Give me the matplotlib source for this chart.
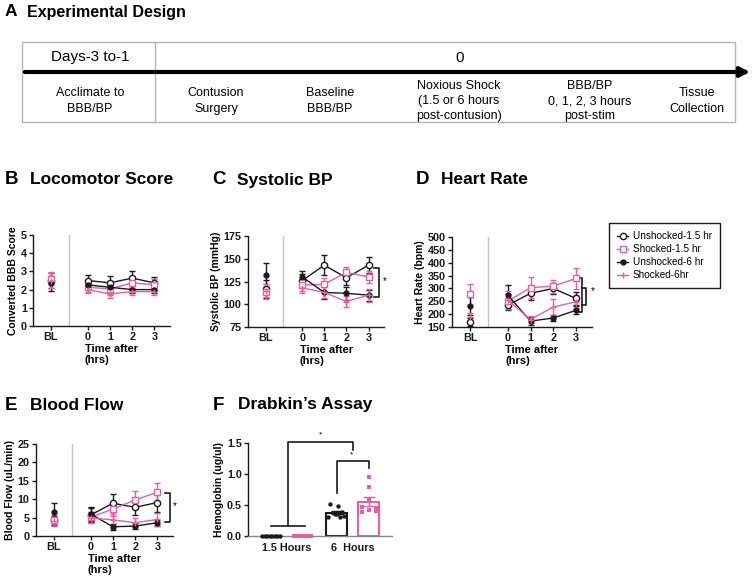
import numpy as np
import matplotlib.pyplot as plt
from matplotlib.patches import Rectangle
from matplotlib.lines import Line2D
from matplotlib.transforms import blended_transform_factory

plt.rcParams['font.family'] = ['Liberation Sans', 'DejaVu Sans']

W, H = 754, 576
BLACK = '#1a1a1a'
PINK = '#e8609b'

# time axis: baseline + hours after stimulation
time_labels = ['BL', '0', '1', '2', '3']
time_x = [-1.65, 0, 1, 2, 3]

group_names = ['Unshocked-1.5 hr', 'Shocked-1.5 hr', 'Unshocked-6 hr', 'Shocked-6hr']

# Locomotor score (mean, sem) at BL, 0, 1, 2, 3
bbb_u15 = [2.5, 2.5, 2.37, 2.63, 2.37]
bbb_u15_err = [0.4, 0.3, 0.35, 0.4, 0.3]
bbb_s15 = [2.6, 2.13, 2.04, 2.37, 2.26]
bbb_s15_err = [0.35, 0.25, 0.35, 0.3, 0.3]
bbb_u6 = [2.35, 2.26, 2.13, 2.0, 2.0]
bbb_u6_err = [0.4, 0.2, 0.2, 0.2, 0.2]
bbb_s6 = [2.5, 2.0, 1.76, 1.89, 1.89]
bbb_s6_err = [0.4, 0.2, 0.2, 0.2, 0.2]

# Systolic BP (mmHg)
sbp_u15 = [117, 126, 143, 129, 143]
sbp_u15_err = [10, 7, 11, 8, 9]
sbp_s15 = [114, 121, 122, 135, 130]
sbp_s15_err = [8, 6, 7, 6, 7]
sbp_u6 = [132, 130, 113, 112, 110]
sbp_u6_err = [13, 6, 7, 7, 6]
sbp_s6 = [115, 118, 113, 103, 110]
sbp_s6_err = [7, 6, 6, 6, 7]

# Heart rate (bpm)
hr_u15 = [170, 235, 281, 300, 261]
hr_u15_err = [15, 20, 25, 20, 25]
hr_s15 = [277, 250, 303, 309, 339]
hr_s15_err = [40, 30, 40, 25, 40]
hr_u6 = [232, 274, 173, 185, 215]
hr_u6_err = [35, 40, 15, 12, 15]
hr_s6 = [189, 255, 179, 228, 248]
hr_s6_err = [15, 35, 12, 30, 25]

# Blood flow (uL/min)
bf_u15 = [4.3, 5.7, 8.9, 7.8, 9.1]
bf_u15_err = [1.2, 2.0, 2.5, 2.0, 2.5]
bf_s15 = [4.4, 5.1, 7.3, 9.8, 11.9]
bf_s15_err = [1.2, 1.5, 2.0, 2.5, 2.5]
bf_u6 = [6.6, 6.0, 2.5, 2.7, 3.6]
bf_u6_err = [2.4, 2.0, 0.8, 0.8, 0.8]
bf_s6 = [4.0, 4.9, 4.4, 3.6, 4.5]
bf_s6_err = [1.2, 1.5, 1.5, 1.2, 1.8]

# Drabkin's assay, hemoglobin (ug/ul) per animal
hb_labels = ['1.5 Hours', '6  Hours']
hb_u15 = [0, 0, 0, 0, 0, 0, 0, 0]
hb_s15 = [0, 0, 0, 0, 0, 0, 0, 0]
hb_u6 = [0.52, 0.48, 0.38, 0.36, 0.33, 0.35, 0.30, 0.31]
hb_s6 = [0.95, 0.79, 0.58, 0.47, 0.45, 0.42, 0.39, 0.40]

styles = [
    dict(color=BLACK, marker='o', mfc='white', mec=BLACK, ms=4.5),
    dict(color=PINK, marker='s', mfc='white', mec=PINK, ms=4.5),
    dict(color=BLACK, marker='o', mfc=BLACK, mec=BLACK, ms=3.5),
    dict(color=PINK, marker='+', mfc=PINK, mec=PINK, ms=5),
]

fig = plt.figure(figsize=(W / 100, H / 100), dpi=100)


def px_axes(x0, y0, x1, y1):
    return fig.add_axes([x0 / W, 1 - y1 / H, (x1 - x0) / W, (y1 - y0) / H])


# ---- overlay in pixel coordinates for panel A and titles
ov = fig.add_axes([0, 0, 1, 1])
ov.set_xlim(0, W)
ov.set_ylim(H, 0)
ov.axis('off')

narrow = ['Liberation Sans Narrow', 'Liberation Sans', 'DejaVu Sans']
ov.add_patch(Rectangle((22, 42), 713, 80, fill=False, ec='#b5b5b5', lw=1))
ov.plot([155, 155], [42, 122], color='#b5b5b5', lw=1)
ov.annotate('', xy=(753, 72), xytext=(22, 72),
            arrowprops=dict(arrowstyle='-|>', lw=3, color='black', mutation_scale=14))
ov.text(90, 57, 'Days-3 to-1', ha='center', va='center', fontsize=11, family=narrow)
ov.text(460, 58, '0', ha='center', va='center', fontsize=11, family=narrow)
steps = [(90, 'Acclimate to\nBBB/BP'), (216, 'Contusion\nSurgery'), (330, 'Baseline\nBBB/BP'),
         (459, 'Noxious Shock\n(1.5 or 6 hours\npost-contusion)'),
         (590, 'BBB/BP\n0, 1, 2, 3 hours\npost-stim'), (697, 'Tissue\nCollection')]
for x, s in steps:
    ov.text(x, 101, s, ha='center', va='center', fontsize=9, family=narrow, linespacing=1.35)

titles = [(5, 12, 'A', 'Experimental Design', 11.5),
          (5, 180, 'B', 'Locomotor Score', 12.5),
          (212, 180, 'C', 'Systolic BP', 12.5),
          (416, 180, 'D', 'Heart Rate', 12.5),
          (5, 405, 'E', 'Blood Flow', 12.5),
          (213, 405, 'F', 'Drabkin\u2019s Assay', 12.5)]
for x, y, letter, t, fs in titles:
    ov.text(x, y, letter, ha='left', va='center', fontsize=fs + 1, fontweight='bold')
    ov.text(x + (22 if letter == 'A' else 25), y, t, ha='left', va='center',
            fontsize=fs, fontweight='bold')


def style_axes(ax):
    for s in ['top', 'right']:
        ax.spines[s].set_visible(False)
    for s in ['left', 'bottom']:
        ax.spines[s].set_linewidth(1)
        ax.spines[s].set_color(BLACK)
    ax.tick_params(direction='out', length=3, width=1, labelsize=7.8, pad=1.5, colors=BLACK)
    for lab in ax.get_xticklabels() + ax.get_yticklabels():
        lab.set_fontweight('bold')


def line_panel(ax, data, ylim, yticks, ylabel):
    handles = []
    for (mean, err), st in zip(data, styles):
        ax.errorbar(time_x[1:], mean[1:], yerr=err[1:], lw=1, elinewidth=1, capsize=2.5,
                    capthick=1, mew=1, clip_on=False, **st)
        ax.errorbar(time_x[:1], mean[:1], yerr=err[:1], ls='none', elinewidth=1,
                    capsize=2.5, capthick=1, mew=1, clip_on=False, **st)
        handles.append(Line2D([], [], lw=1, mew=1, **st))
    ax.axvline(-0.85, color='#c4c4c4', lw=1)
    ax.set_xlim(-2.45, 3.7)
    ax.set_ylim(*ylim)
    ax.set_yticks(yticks)
    ax.set_xticks(time_x)
    ax.set_xticklabels(time_labels)
    ax.set_ylabel(ylabel, fontsize=7.5, fontweight='bold', labelpad=2)
    tr = blended_transform_factory(ax.transData, ax.transAxes)
    ax.text(-0.12, -0.2, 'Time after\n(hrs)', transform=tr, ha='left', va='top',
            fontsize=8, fontweight='bold', linespacing=1.1)
    style_axes(ax)
    return handles


def bracket(ax, x, y0, y1, tick, **kw):
    ax.plot([x - tick, x, x, x - tick], [y0, y0, y1, y1], color=BLACK, lw=1.2,
            clip_on=False, **kw)


# ---- B
axB = px_axes(33, 235, 170, 326)
line_panel(axB, [(bbb_u15, bbb_u15_err), (bbb_s15, bbb_s15_err),
                 (bbb_u6, bbb_u6_err), (bbb_s6, bbb_s6_err)],
           (0, 5), range(0, 6), 'Converted BBB Score')

# ---- C
axC = px_axes(248, 236, 384, 327)
line_panel(axC, [(sbp_u15, sbp_u15_err), (sbp_s15, sbp_s15_err),
                 (sbp_u6, sbp_u6_err), (sbp_s6, sbp_s6_err)],
           (75, 175), range(75, 176, 25), 'Systolic BP (mmHg)')
bracket(axC, 3.48, 140, 108, 0.22)
axC.text(3.74, 125, '*', ha='center', va='center', fontsize=7, clip_on=False)

# ---- D
axD = px_axes(452, 237, 592, 327)
handles = line_panel(axD, [(hr_u15, hr_u15_err), (hr_s15, hr_s15_err),
                           (hr_u6, hr_u6_err), (hr_s6, hr_s6_err)],
                     (150, 500), range(150, 501, 50), 'Heart Rate (bpm)')
bracket(axD, 3.26, 339, 207, 0.12)
bracket(axD, 3.45, 300, 236, 0.19)
axD.text(3.74, 290, '*', ha='center', va='center', fontsize=7, clip_on=False)

# ---- E
axE = px_axes(36, 444, 173, 536)
line_panel(axE, [(bf_u15, bf_u15_err), (bf_s15, bf_s15_err),
                 (bf_u6, bf_u6_err), (bf_s6, bf_s6_err)],
           (0, 25), range(0, 26, 5), 'Blood Flow (uL/min)')
bracket(axE, 3.56, 11.7, 3.8, 0.22)
axE.text(3.8, 8.2, '*', ha='center', va='center', fontsize=7, clip_on=False)

# ---- F
axF = px_axes(248, 443, 392, 536)
bar_x = [0, 1, 2.08, 3.1]
bar_w = 0.66
hb_sets = [hb_u15, hb_s15, hb_u6, hb_s6]
hb_cols = [BLACK, PINK, BLACK, PINK]
hb_marks = ['o', 's', 'o', 's']
dot_offsets = [-0.22, 0.06, 0.18, -0.06, 0.24, 0.0, -0.26, 0.12]
sq_offsets = [0.0, 0.0, 0.0, -0.22, 0.22, 0.0, -0.22, 0.22]
for x, vals, c, m in zip(bar_x, hb_sets, hb_cols, hb_marks):
    vals = np.array(vals)
    mean = vals.mean()
    sem = vals.std(ddof=1) / np.sqrt(len(vals))
    axF.bar(x, mean, width=bar_w, facecolor='white', edgecolor=c, lw=1.5, zorder=2)
    if mean > 0:
        axF.errorbar(x, mean, yerr=sem, color=c, capsize=4, elinewidth=1, capthick=1,
                     zorder=3)
    offs = dot_offsets if m == 'o' else sq_offsets
    if mean == 0:
        offs = np.linspace(-0.27, 0.27, len(vals))
    axF.scatter(np.array(offs) + x, vals, s=10 if m == 'o' else 12, marker=m, color=c,
                zorder=4, clip_on=False, lw=0)
axF.plot([0, 1.08], [0.16, 0.16], color=BLACK, lw=1.2)
axF.plot([0.54, 0.54, 2.6, 2.6], [0.16, 1.52, 1.52, 1.39], color=BLACK, lw=1.2,
         clip_on=False)
axF.plot([2.08, 2.08, 3.1, 3.1], [0.69, 1.21, 1.21, 1.10], color=BLACK, lw=1.2,
         clip_on=False)
axF.text(1.56, 1.63, '*', ha='center', va='center', fontsize=6, clip_on=False)
axF.text(2.57, 1.31, '*', ha='center', va='center', fontsize=6, clip_on=False)
axF.set_xlim(-0.73, 3.84)
axF.set_ylim(0, 1.5)
axF.set_yticks([0, 0.5, 1.0, 1.5])
axF.set_yticklabels(['0.0', '0.5', '1.0', '1.5'])
axF.set_xticks([0.5, 2.59])
axF.set_xticklabels(hb_labels)
axF.set_ylabel('Hemoglobin (ug/ul)', fontsize=7.5, fontweight='bold', labelpad=2)
style_axes(axF)
axF.spines['bottom'].set_color('#888888')
axF.tick_params(axis='x', length=0, pad=5, labelsize=7.8)

# ---- legend
fig.legend(handles, group_names, loc='upper left',
           bbox_to_anchor=(604 / W, 1 - 218 / H), frameon=True, fancybox=False,
           edgecolor=BLACK, fontsize=7.2, handlelength=1.1, handletextpad=0.5,
           borderpad=0.8, labelspacing=0.3, framealpha=1).get_frame().set_linewidth(1)

fig.savefig('out.png', dpi=100)
